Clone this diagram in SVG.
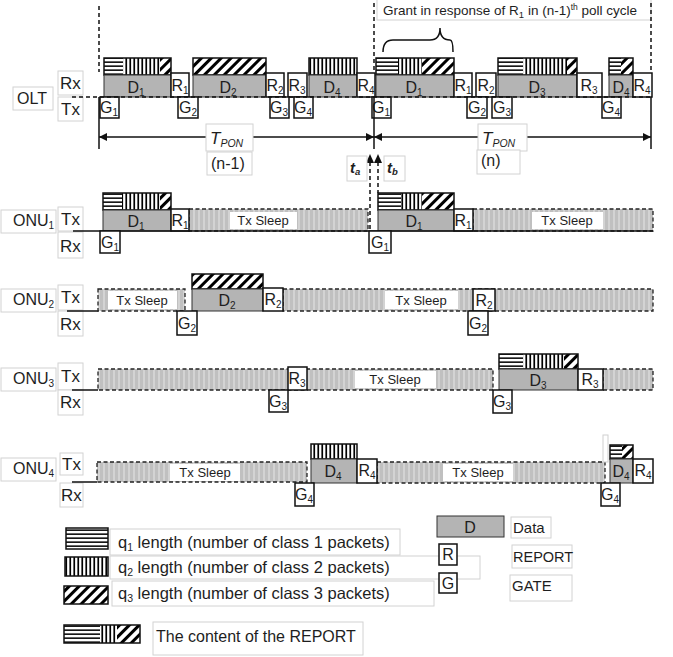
<svg xmlns="http://www.w3.org/2000/svg" width="673" height="657" viewBox="0 0 673 657">
<style>
.t{font-family:"Liberation Sans",Arial,sans-serif;fill:#1e1e1e}
.m{font-size:16px;text-anchor:middle}
.s{font-size:13px;text-anchor:middle}
.lb{font-size:17px}
.fr{fill:#fff;stroke:#d2d2d2;stroke-width:1}
.bx{fill:#fff;stroke:#111;stroke-width:1.5}
.d{fill:#b4b4b4;stroke:#333;stroke-width:1}
.ol{fill:none;stroke:#111;stroke-width:1.5}
.sl{fill:url(#ps);stroke:#222;stroke-width:1.3;stroke-dasharray:4 2.5}
.wl{fill:#fff}
.dash{stroke:#111;stroke-width:1.5;stroke-dasharray:4 3;fill:none}
.ln{stroke:#111;stroke-width:1.5;fill:none}
.ph{fill:url(#ph)}.pv{fill:url(#pv)}.pd{fill:url(#pd)}
</style>
<defs>
<pattern id="ph" width="6" height="4" patternUnits="userSpaceOnUse"><rect width="6" height="4" fill="#fff"/><rect y="1.4" width="6" height="1.5" fill="#000"/></pattern>
<pattern id="pv" width="4" height="6" patternUnits="userSpaceOnUse"><rect width="4" height="6" fill="#fff"/><rect x="1.4" width="1.7" height="6" fill="#000"/></pattern>
<pattern id="pd" width="7" height="7" patternUnits="userSpaceOnUse" patternTransform="rotate(45)"><rect width="7" height="7" fill="#fff"/><rect width="3" height="7" fill="#000"/></pattern>
<pattern id="ps" width="5" height="10" patternUnits="userSpaceOnUse"><rect width="5" height="10" fill="#c0c0c0"/><rect x="3" width="2" height="10" fill="#d3d3d3"/></pattern>
<marker id="ah" viewBox="0 0 10 10" refX="10" refY="5" markerWidth="10" markerHeight="8" markerUnits="userSpaceOnUse" orient="auto-start-reverse"><path d="M0,0 L10,5 L0,10 z" fill="#111"/></marker>
</defs>
<rect width="673" height="657" fill="#fff"/>

<!-- OLT -->
<g id="olt-labels">
<rect class="fr" x="13" y="87" width="40" height="23"/>
<text class="t" x="17" y="104" font-size="16">OLT</text>
<rect class="fr" x="58" y="71" width="25" height="24"/>
<text class="t lb" x="60" y="89">Rx</text>
<rect class="fr" x="58" y="97" width="25" height="24"/>
<text class="t lb" x="61" y="115">Tx</text>
</g>
<g id="olt-grant-label">
<rect class="fr" x="377" y="-1" width="274" height="21"/>
<text class="t" x="383" y="15" font-size="13.5">Grant in response of R<tspan font-size="9.5" dy="3">1</tspan><tspan dy="-3"> in (n-1)</tspan><tspan font-size="8.5" dy="-5">th</tspan><tspan dy="5"> poll cycle</tspan></text>
<path class="ln" d="M383,52 Q383,40 393,40 L430,40 Q440,40 440,28 Q440,40 450,40 Q453,40 453,52"/>
</g>
<g id="olt-report-bars">
<rect class="ph" x="104" y="58" width="19" height="17"/><rect class="pv" x="123" y="58" width="37" height="17"/><rect class="pd" x="160" y="58" width="11" height="17"/><rect class="ol" x="104" y="58" width="67" height="17"/>
<rect class="pd" x="193" y="58" width="73" height="17"/><rect class="ol" x="193" y="58" width="73" height="17"/>
<rect class="pv" x="309" y="58" width="48" height="17"/><rect class="ol" x="309" y="58" width="48" height="17"/>
<rect class="ph" x="376" y="58" width="22" height="17"/><rect class="pv" x="398" y="58" width="24" height="17"/><rect class="pd" x="422" y="58" width="32" height="17"/><rect class="ol" x="376" y="58" width="78" height="17"/>
<rect class="ph" x="498" y="58" width="25" height="17"/><rect class="pv" x="523" y="58" width="44" height="17"/><rect class="pd" x="567" y="58" width="10" height="17"/><rect class="ol" x="498" y="58" width="79" height="17"/>
<rect class="ph" x="609" y="58" width="12" height="17"/><rect class="pd" x="621" y="58" width="12" height="17"/><rect class="ol" x="609" y="58" width="24" height="17"/>
</g>
<g id="olt-data">
<rect class="d" x="104" y="75" width="67" height="22"/><text class="t m" x="136" y="93">D<tspan font-size="10" dy="3">1</tspan></text>
<rect class="d" x="193" y="75" width="73" height="22"/><text class="t m" x="228" y="93">D<tspan font-size="10" dy="3">2</tspan></text>
<rect class="d" x="309" y="75" width="48" height="22"/><text class="t m" x="332" y="93">D<tspan font-size="10" dy="3">4</tspan></text>
<rect class="d" x="376" y="75" width="78" height="22"/><text class="t m" x="414" y="93">D<tspan font-size="10" dy="3">1</tspan></text>
<rect class="d" x="498" y="75" width="79" height="22"/><text class="t m" x="537" y="93">D<tspan font-size="10" dy="3">3</tspan></text>
<rect class="d" x="609" y="75" width="24" height="22"/><text class="t m" x="621" y="93">D<tspan font-size="10" dy="3">4</tspan></text>
</g>
<g id="olt-reports">
<rect class="bx" x="171" y="73" width="18" height="24"/><text class="t m" x="180" y="91">R<tspan font-size="10" dy="3">1</tspan></text>
<rect class="bx" x="266" y="73" width="18" height="24"/><text class="t m" x="275" y="91">R<tspan font-size="10" dy="3">2</tspan></text>
<rect class="bx" x="288" y="73" width="19" height="24"/><text class="t m" x="297" y="91">R<tspan font-size="10" dy="3">3</tspan></text>
<rect class="bx" x="357" y="73" width="18" height="24"/><text class="t m" x="366" y="91">R<tspan font-size="10" dy="3">4</tspan></text>
<rect class="bx" x="454" y="73" width="18" height="24"/><text class="t m" x="463" y="91">R<tspan font-size="10" dy="3">1</tspan></text>
<rect class="bx" x="476" y="73" width="20" height="24"/><text class="t m" x="486" y="91">R<tspan font-size="10" dy="3">2</tspan></text>
<rect class="bx" x="577" y="73" width="25" height="24"/><text class="t m" x="589" y="91">R<tspan font-size="10" dy="3">3</tspan></text>
<rect class="bx" x="633" y="73" width="19" height="24"/><text class="t m" x="642" y="91">R<tspan font-size="10" dy="3">4</tspan></text>
</g>
<g id="olt-gates">
<rect class="bx" x="100" y="97" width="19" height="21"/><text class="t m" x="109" y="113">G<tspan font-size="10" dy="3">1</tspan></text>
<rect class="bx" x="178" y="97" width="20" height="21"/><text class="t m" x="188" y="113">G<tspan font-size="10" dy="3">2</tspan></text>
<rect class="bx" x="270" y="97" width="19" height="21"/><text class="t m" x="279" y="113">G<tspan font-size="10" dy="3">3</tspan></text>
<rect class="bx" x="294" y="97" width="19" height="21"/><text class="t m" x="303" y="113">G<tspan font-size="10" dy="3">4</tspan></text>
<rect class="bx" x="372" y="97" width="19" height="21"/><text class="t m" x="381" y="113">G<tspan font-size="10" dy="3">1</tspan></text>
<rect class="bx" x="467" y="97" width="20" height="21"/><text class="t m" x="477" y="113">G<tspan font-size="10" dy="3">2</tspan></text>
<rect class="bx" x="492" y="97" width="20" height="21"/><text class="t m" x="502" y="113">G<tspan font-size="10" dy="3">3</tspan></text>
<rect class="bx" x="602" y="97" width="19" height="21"/><text class="t m" x="611" y="113">G<tspan font-size="10" dy="3">4</tspan></text>
</g>

<!-- ONU1 -->
<g id="onu1">
<rect class="fr" x="1" y="210" width="55" height="23"/>
<text class="t" x="13" y="226" font-size="16">ONU<tspan font-size="10" dy="3">1</tspan></text>
<rect class="fr" x="58" y="207" width="25" height="24"/><text class="t lb" x="61" y="225">Tx</text>
<rect class="fr" x="58" y="232" width="25" height="26"/><text class="t lb" x="60" y="252">Rx</text>
<rect class="sl" x="189" y="209" width="179" height="22"/>
<rect class="wl" x="230" y="212" width="67" height="17"/><text class="t s" x="263" y="225">Tx Sleep</text>
<rect class="sl" x="473" y="209" width="180" height="22"/>
<rect class="wl" x="532" y="212" width="71" height="17"/><text class="t s" x="567" y="225">Tx Sleep</text>
<rect class="ph" x="103" y="193" width="19" height="17"/><rect class="pv" x="122" y="193" width="38" height="17"/><rect class="pd" x="160" y="193" width="11" height="17"/><rect class="ol" x="103" y="193" width="68" height="17"/>
<rect class="d" x="103" y="210" width="68" height="21"/><text class="t m" x="136" y="227">D<tspan font-size="10" dy="3">1</tspan></text>
<rect class="bx" x="171" y="209" width="18" height="22"/><text class="t m" x="180" y="226">R<tspan font-size="10" dy="3">1</tspan></text>
<rect class="ph" x="378" y="193" width="23" height="17"/><rect class="pv" x="401" y="193" width="21" height="17"/><rect class="pd" x="422" y="193" width="32" height="17"/><rect class="ol" x="378" y="193" width="76" height="17"/>
<rect class="d" x="378" y="210" width="76" height="21"/><text class="t m" x="414" y="227">D<tspan font-size="10" dy="3">1</tspan></text>
<rect class="bx" x="454" y="209" width="19" height="22"/><text class="t m" x="463" y="226">R<tspan font-size="10" dy="3">1</tspan></text>
<line class="ln" x1="73" y1="231" x2="653" y2="231"/>
<rect class="bx" x="100" y="231" width="20" height="22"/><text class="t m" x="110" y="248">G<tspan font-size="10" dy="3">1</tspan></text>
<rect class="bx" x="369" y="231" width="22" height="22"/><text class="t m" x="380" y="248">G<tspan font-size="10" dy="3">1</tspan></text>
</g>

<!-- ONU2 -->
<g id="onu2">
<rect class="fr" x="1" y="289" width="55" height="23"/>
<text class="t" x="13" y="305" font-size="16">ONU<tspan font-size="10" dy="3">2</tspan></text>
<rect class="fr" x="58" y="285" width="25" height="25"/><text class="t lb" x="61" y="303">Tx</text>
<rect class="fr" x="58" y="311" width="25" height="25"/><text class="t lb" x="60" y="330">Rx</text>
<line class="ln" x1="67" y1="311" x2="98" y2="311"/>
<rect class="sl" x="98" y="289" width="87" height="22"/>
<rect class="wl" x="108" y="291" width="69" height="18"/><text class="t s" x="142" y="305">Tx Sleep</text>
<rect class="sl" x="283" y="289" width="370" height="22"/>
<rect class="wl" x="385" y="291" width="73" height="18"/><text class="t s" x="421" y="305">Tx Sleep</text>
<rect class="pd" x="192" y="274" width="71" height="15"/><rect class="ol" x="192" y="274" width="71" height="15"/>
<rect class="d" x="192" y="289" width="71" height="22"/><text class="t m" x="227" y="306">D<tspan font-size="10" dy="3">2</tspan></text>
<rect class="bx" x="263" y="288" width="20" height="23"/><text class="t m" x="273" y="305">R<tspan font-size="10" dy="3">2</tspan></text>
<rect class="bx" x="473" y="289" width="22" height="22"/><text class="t m" x="484" y="306">R<tspan font-size="10" dy="3">2</tspan></text>
<rect class="bx" x="177" y="311" width="20" height="24"/><text class="t m" x="187" y="329">G<tspan font-size="10" dy="3">2</tspan></text>
<rect class="bx" x="468" y="311" width="20" height="24"/><text class="t m" x="478" y="329">G<tspan font-size="10" dy="3">2</tspan></text>
</g>

<!-- ONU3 -->
<g id="onu3">
<rect class="fr" x="1" y="368" width="55" height="23"/>
<text class="t" x="13" y="384" font-size="16">ONU<tspan font-size="10" dy="3">3</tspan></text>
<rect class="fr" x="58" y="363" width="25" height="27"/><text class="t lb" x="61" y="382">Tx</text>
<rect class="fr" x="58" y="390" width="25" height="25"/><text class="t lb" x="60" y="408">Rx</text>
<line class="ln" x1="72" y1="390" x2="98" y2="390"/>
<rect class="sl" x="98" y="369" width="395" height="21"/>
<rect class="wl" x="355" y="371" width="81" height="17"/><text class="t s" x="395" y="384">Tx Sleep</text>
<rect class="sl" x="603" y="369" width="50" height="21"/>
<rect class="ph" x="499" y="354" width="24" height="15"/><rect class="pv" x="523" y="354" width="41" height="15"/><rect class="pd" x="564" y="354" width="14" height="15"/><rect class="ol" x="499" y="354" width="79" height="15"/>
<rect class="d" x="499" y="369" width="79" height="21"/><text class="t m" x="538" y="386">D<tspan font-size="10" dy="3">3</tspan></text>
<rect class="bx" x="578" y="369" width="25" height="21"/><text class="t m" x="590" y="385">R<tspan font-size="10" dy="3">3</tspan></text>
<rect class="bx" x="288" y="367" width="19" height="23"/><text class="t m" x="297" y="384">R<tspan font-size="10" dy="3">3</tspan></text>
<rect class="bx" x="269" y="390" width="19" height="22"/><text class="t m" x="278" y="407">G<tspan font-size="10" dy="3">3</tspan></text>
<rect class="bx" x="493" y="390" width="19" height="23"/><text class="t m" x="502" y="407">G<tspan font-size="10" dy="3">3</tspan></text>
</g>

<!-- ONU4 -->
<g id="onu4">
<rect class="fr" x="1" y="458" width="55" height="23"/>
<text class="t" x="13" y="474" font-size="16">ONU<tspan font-size="10" dy="3">4</tspan></text>
<rect class="fr" x="60" y="453" width="23" height="22"/><text class="t lb" x="62" y="470">Tx</text>
<rect class="fr" x="60" y="483" width="23" height="24"/><text class="t lb" x="61" y="501">Rx</text>
<line class="ln" x1="72" y1="482" x2="97" y2="482"/>
<rect class="sl" x="97" y="462" width="210" height="20"/>
<rect class="wl" x="170" y="464" width="70" height="17"/><text class="t s" x="205" y="477">Tx Sleep</text>
<rect class="sl" x="377" y="462" width="228" height="21"/>
<rect class="wl" x="443" y="464" width="70" height="17"/><text class="t s" x="478" y="477">Tx Sleep</text>
<rect fill="#fff" stroke="#cfcfcf" stroke-width="1" x="603" y="435" width="5" height="27"/>
<rect class="pv" x="311" y="444" width="46" height="15"/><rect class="ol" x="311" y="444" width="46" height="15"/>
<rect class="d" x="311" y="459" width="46" height="24"/><text class="t m" x="333" y="477">D<tspan font-size="10" dy="3">4</tspan></text>
<rect class="bx" x="357" y="459" width="20" height="24"/><text class="t m" x="367" y="476">R<tspan font-size="10" dy="3">4</tspan></text>
<rect class="ph" x="610" y="445" width="12" height="14"/><rect class="pd" x="622" y="445" width="11" height="14"/><rect class="ol" x="610" y="445" width="23" height="14"/>
<rect class="d" x="610" y="459" width="23" height="24"/><text class="t m" x="621" y="477">D<tspan font-size="10" dy="3">4</tspan></text>
<rect class="bx" x="633" y="459" width="20" height="24"/><text class="t m" x="643" y="476">R<tspan font-size="10" dy="3">4</tspan></text>
<rect class="bx" x="295" y="483" width="19" height="23"/><text class="t m" x="304" y="500">G<tspan font-size="10" dy="3">4</tspan></text>
<rect class="bx" x="601" y="483" width="19" height="23"/><text class="t m" x="610" y="500">G<tspan font-size="10" dy="3">4</tspan></text>
</g>

<!-- connectors -->
<g id="connectors">
<line class="dash" x1="72" y1="97" x2="652" y2="97"/>
<line class="dash" x1="99" y1="6" x2="99" y2="72"/>
<line class="ln" x1="99" y1="97" x2="99" y2="149"/>
<line class="dash" x1="374" y1="3" x2="374" y2="72"/>
<line class="ln" x1="374" y1="97" x2="374" y2="149"/>
<line class="dash" x1="651" y1="3" x2="651" y2="72"/>
<line class="ln" x1="651" y1="97" x2="651" y2="149"/>
<line class="ln" x1="99" y1="137" x2="206" y2="137" marker-start="url(#ah)"/>
<line class="ln" x1="253" y1="137" x2="374" y2="137" marker-end="url(#ah)"/>
<line class="ln" x1="374" y1="137" x2="478" y2="137" marker-start="url(#ah)"/>
<line class="ln" x1="527" y1="137" x2="651" y2="137" marker-end="url(#ah)"/>
<line class="dash" x1="370" y1="162" x2="370" y2="232"/>
<line class="dash" x1="378" y1="162" x2="378" y2="193"/>
<polygon points="366,163 370,154 374,163" fill="#111"/>
<polygon points="374,163 378,154 382,163" fill="#111"/>
</g>
<g id="tpon-labels">
<rect class="fr" x="206" y="124" width="47" height="27"/>
<text class="t" x="210" y="144" font-size="17" font-style="italic">T<tspan font-size="10.5" dy="3">PON</tspan></text>
<rect class="fr" x="207" y="152" width="45" height="23"/>
<text class="t" x="211" y="169" font-size="16">(n-1)</text>
<rect class="fr" x="478" y="124" width="49" height="27"/>
<text class="t" x="482" y="144" font-size="17" font-style="italic">T<tspan font-size="10.5" dy="3">PON</tspan></text>
<rect class="fr" x="477" y="150" width="43" height="24"/>
<text class="t" x="481" y="166" font-size="16">(n)</text>
<rect class="fr" x="347" y="156" width="20" height="25"/>
<text class="t" x="350" y="173" font-size="15" font-weight="bold" font-style="italic">t<tspan font-size="9.5" dy="2">a</tspan></text>
<rect class="fr" x="384" y="156" width="21" height="25"/>
<text class="t" x="387" y="173" font-size="15" font-weight="bold" font-style="italic">t<tspan font-size="9.5" dy="2">b</tspan></text>
</g>

<!-- legend -->
<g id="legend-q1">
<rect class="ph" x="66" y="528" width="42" height="21"/><rect class="ol" x="66" y="528" width="42" height="21"/>
<rect class="fr" x="110" y="529" width="290" height="26"/>
<text class="t" x="118" y="548" font-size="16.5">q<tspan font-size="10.5" dy="3">1</tspan><tspan dy="-3"> length (number of class 1 packets)</tspan></text>
</g>
<g id="legend-q2">
<rect class="pv" x="65" y="557" width="43" height="19"/><rect class="ol" x="65" y="557" width="43" height="19"/>
<rect fill="none" stroke="#d2d2d2" x="110" y="556" width="370" height="23"/>
<text class="t" x="118" y="573" font-size="16.5">q<tspan font-size="10.5" dy="3">2</tspan><tspan dy="-3"> length (number of class 2 packets)</tspan></text>
</g>
<g id="legend-q3">
<rect class="pd" x="64" y="586" width="44" height="18"/><rect class="ol" x="64" y="586" width="44" height="18"/>
<rect class="fr" x="112" y="581" width="322" height="25"/>
<text class="t" x="118" y="599" font-size="16.5">q<tspan font-size="10.5" dy="3">3</tspan><tspan dy="-3"> length (number of class 3 packets)</tspan></text>
</g>
<g id="legend-report">
<rect class="ph" x="64" y="625" width="36" height="18"/><rect class="pv" x="100" y="625" width="17" height="18"/><rect class="pd" x="117" y="625" width="23" height="18"/><rect class="ol" x="64" y="625" width="76" height="18"/>
<rect class="fr" x="153" y="622" width="210" height="33"/>
<text class="t" x="156" y="642" font-size="16">The content of the REPORT</text>
</g>
<g id="legend-data">
<rect class="d" x="437" y="516" width="67" height="21" stroke="#111" stroke-width="1.5"/>
<text class="t m" x="470" y="533">D</text>
<rect class="fr" x="511" y="517" width="40" height="21"/>
<text class="t" x="513" y="533" font-size="15">Data</text>
</g>
<g id="legend-report-box">
<rect class="bx" x="439" y="544" width="18" height="21"/>
<text class="t m" x="448" y="560">R</text>
<rect class="fr" x="512" y="545" width="60" height="23"/>
<text class="t" x="513" y="562" font-size="14.5">REPORT</text>
</g>
<g id="legend-gate">
<rect class="bx" x="439" y="573" width="18" height="20"/>
<text class="t m" x="448" y="589">G</text>
<rect class="fr" x="510" y="575" width="62" height="26"/>
<text class="t" x="512" y="591" font-size="15">GATE</text>
</g>
</svg>
